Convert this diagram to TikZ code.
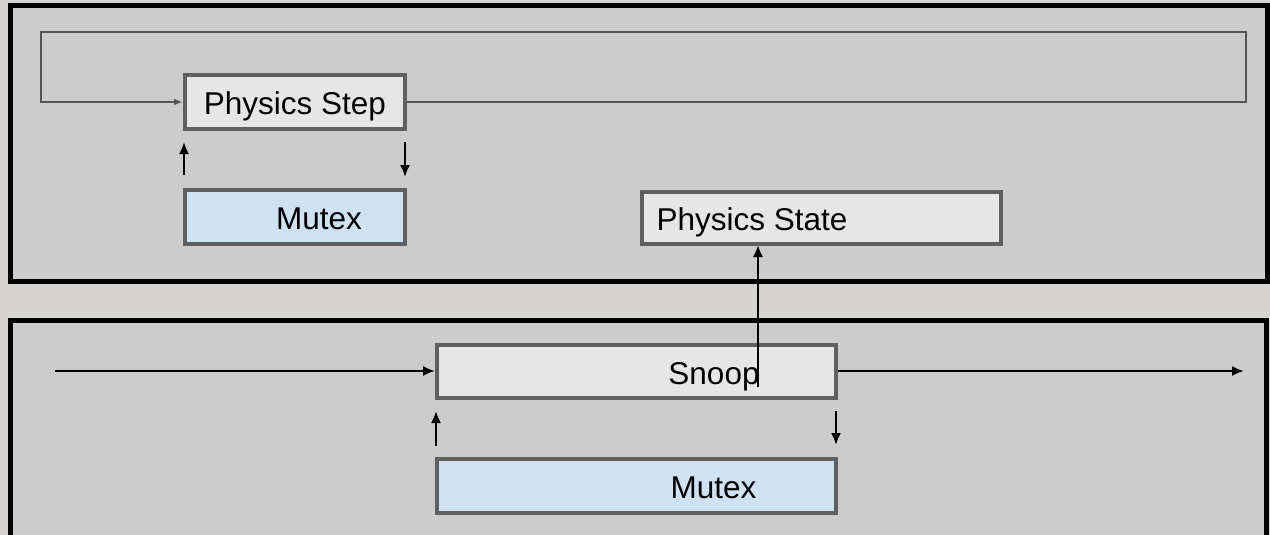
\documentclass[tikz,border=0pt]{standalone}
\usepackage{fontspec}
\setmainfont{Liberation Sans}
\usetikzlibrary{arrows.meta}
\definecolor{bgc}{HTML}{D6D4D1}
\definecolor{panelc}{HTML}{CCCCCC}
\definecolor{boxborder}{HTML}{5F5F5F}
\definecolor{boxfill}{HTML}{E6E6E6}
\definecolor{mutexfill}{HTML}{CFE2F3}
\definecolor{loopc}{HTML}{555555}
\tikzset{
  panel/.style={draw=black, line width=5pt, fill=panelc},
  box/.style={draw=boxborder, line width=4pt, fill=boxfill, inner sep=0pt,
    font=\fontsize{31.5}{36}\selectfont, text=black, text height=25.6pt, text depth=0pt},
  mutexbox/.style={box, fill=mutexfill},
  looparrow/.style={draw=loopc, line width=2pt, -{Latex[length=9pt,width=7pt]}},
  flow/.style={draw=black, line width=2pt, -{Latex[length=12pt,width=10pt]}}
}
\begin{document}
\begin{tikzpicture}[x=1pt,y=-1pt]
\useasboundingbox (0,0) rectangle (1270,535);
\clip (0,0) rectangle (1270,535);
\fill[bgc] (0,0) rectangle (1270,535);
% panels
\draw[panel] (10,6) rectangle (1267,281);
\draw[panel] (10,320) rectangle (1266,560);
% top panel boxes
\node[box, minimum width=220, minimum height=54] (step) at (295,102) {Physics Step};
\node[mutexbox, minimum width=220, minimum height=54] (mtop) at (295,217) {\hspace*{48pt}Mutex};
\node[box, minimum width=359, minimum height=52] (pstate) at (821.5,218) {Physics State\hspace*{139pt}};
% bottom panel boxes
\node[box, minimum width=399, minimum height=53] (snoop) at (636.5,371.5) {\hspace*{155pt}Snoop};
\node[mutexbox, minimum width=399, minimum height=54] (mbot) at (636.5,486) {\hspace*{154pt}Mutex};
% loop around physics step
\coordinate (lr) at (1246,32);
\coordinate (ll) at (41,32);
\draw[looparrow] (step.east) -- (step.east -| lr) -- (lr) -- (ll) -- (ll |- step.west) -- (step.west);
% step <-> mutex
\draw[flow, shorten <=13pt, shorten >=11pt] ([xshift=1pt]mtop.north west) -- ([xshift=1pt]step.south west);
\draw[flow, shorten <=11pt, shorten >=11pt] ([xshift=-2pt]step.south east) -- ([xshift=-2pt]step.south east |- mtop.north);
% snoop flow
\coordinate (in) at (55,371);
\coordinate (out) at (1244,371);
\draw[flow] (in) -- (snoop.west |- in);
\draw[flow] (snoop.east |- out) -- (out);
\draw[flow, shorten <=11pt, shorten >=11pt] ([xshift=1pt]mbot.north west) -- ([xshift=1pt]snoop.south west);
\draw[flow, shorten <=11pt, shorten >=12pt] ([xshift=-2pt]snoop.south east) -- ([xshift=-2pt]snoop.south east |- mbot.north);
% snoop to physics state
\coordinate (sp) at (758,387);
\draw[flow, shorten >=-1pt] (sp) -- (sp |- pstate.south);
\end{tikzpicture}
\end{document}
